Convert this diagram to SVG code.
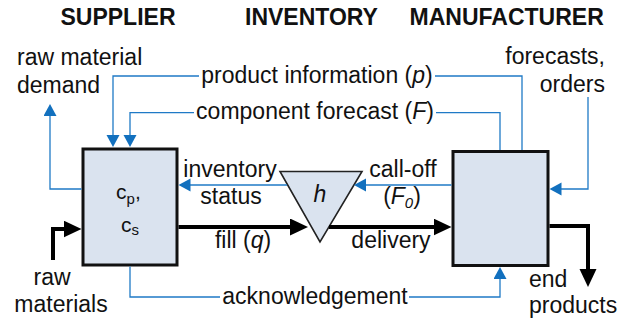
<svg xmlns="http://www.w3.org/2000/svg" width="638" height="325" viewBox="0 0 638 325">
<defs>
<style>
text{font-family:"Liberation Sans",Arial,sans-serif;font-size:23px;fill:#111}
.title{font-weight:bold}
.mid{text-anchor:middle}
.end{text-anchor:end}
.it{font-style:italic}
.box{fill:#DAE3EF;stroke:#111;stroke-width:3}
.tri{fill:#DAE3EF;stroke:#222;stroke-width:1.6;stroke-linejoin:miter}
.info{fill:none;stroke:#1F7AC6;stroke-width:1.3}
.info-a{fill:none;stroke:#1F7AC6;stroke-width:1.3;marker-end:url(#ba)}
.flow{fill:none;stroke:#000;stroke-width:4;stroke-linejoin:miter;marker-end:url(#ka)}
.var{font-size:21px}
.sub{font-size:15px}
</style>
<marker id="ba" markerUnits="userSpaceOnUse" markerWidth="14" markerHeight="14" refX="10" refY="6.5" orient="auto">
<path d="M0,0 L12,6.5 L0,13 z" fill="#1270BE"/>
</marker>
<marker id="ka" markerUnits="userSpaceOnUse" markerWidth="20" markerHeight="20" refX="10" refY="8.5" orient="auto">
<path d="M0,0 L18,8.5 L0,17 z" fill="#000"/>
</marker>
</defs>

<g id="titles">
<text class="title mid" x="118" y="25">SUPPLIER</text>
<text class="title mid" x="311.5" y="25">INVENTORY</text>
<text class="title mid" x="506.7" y="25">MANUFACTURER</text>
</g>

<g id="supplier">
<rect class="box" x="83" y="149" width="94" height="116"/>
<text class="var" x="116" y="199">c</text>
<text class="sub" x="126.5" y="204">p</text>
<text class="var" x="135" y="199">,</text>
<text class="var" x="121" y="232">c</text>
<text class="sub" x="131.5" y="234.5">s</text>
</g>

<g id="inventory">
<polygon class="tri" points="280,171.5 362,171.5 320,242"/>
<text class="mid it" x="320" y="202">h</text>
</g>

<g id="manufacturer">
<rect class="box" x="453" y="151.5" width="95" height="114"/>
</g>

<g id="connectors">
<path class="info-a" d="M199,76 H113 V145"/>
<path class="info" d="M435,76 H522 V150"/>
<path class="info-a" d="M194,112.7 H130 V145"/>
<path class="info" d="M436,112.7 H500 V150"/>
<path class="info-a" d="M81.5,189 H50 V106"/>
<path class="info-a" d="M588,97 V189 H551.5"/>
<path class="info-a" d="M287,185 H180.5"/>
<path class="info-a" d="M451.5,185 H356"/>
<path class="info" d="M130,266.5 V297 H220"/>
<path class="info-a" d="M409,297 H500 V269"/>
<path class="flow" d="M53,260 V229 H73.5"/>
<path class="flow" d="M178.5,227 H300"/>
<path class="flow" d="M329,227 H443.5"/>
<path class="flow" d="M549.5,226 H588 V279"/>
</g>

<g id="labels">
<text x="17" y="65">raw material</text>
<text x="17" y="93">demand</text>
<text class="mid" x="317" y="82.5">product information (<tspan class="it">p</tspan>)</text>
<text class="mid" x="315" y="119">component forecast (<tspan class="it">F</tspan>)</text>
<text class="end" x="605" y="64">forecasts,</text>
<text class="end" x="605" y="92">orders</text>
<text class="mid" x="230" y="177">inventory</text>
<text class="mid" x="231" y="204">status</text>
<text class="mid" x="403" y="177">call-off</text>
<text class="mid" x="402" y="204">(<tspan class="it">F</tspan><tspan class="it" style="font-size:15px" dy="4">0</tspan><tspan dy="-4">)</tspan></text>
<text class="mid" x="243" y="248">fill (<tspan class="it">q</tspan>)</text>
<text class="mid" x="391" y="248">delivery</text>
<text class="mid" x="52" y="285">raw</text>
<text class="mid" x="61" y="311.5">materials</text>
<text class="mid" x="315" y="304">acknowledgement</text>
<text x="529" y="287">end</text>
<text x="529" y="313">products</text>
</g>
</svg>
